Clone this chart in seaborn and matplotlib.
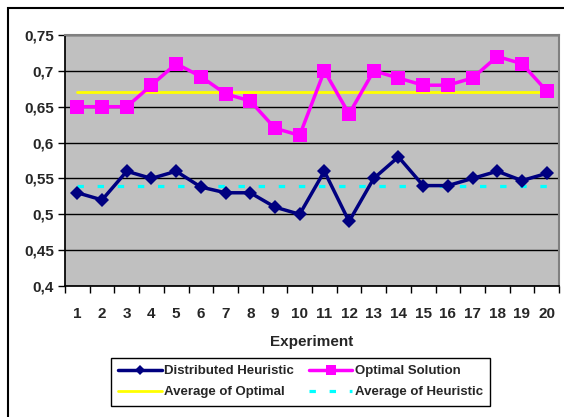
import numpy as np
import pandas as pd
import seaborn as sns
import matplotlib.pyplot as plt
from matplotlib.ticker import FuncFormatter, FixedLocator
from matplotlib.patches import Rectangle

sns.set_theme(style="white")
plt.rcParams['font.family'] = ['Liberation Sans', 'DejaVu Sans']

# Datos
experiments = list(range(1, 21))
heuristic = [0.53, 0.52, 0.56, 0.55, 0.56, 0.538, 0.53, 0.53, 0.51, 0.50,
             0.56, 0.49, 0.55, 0.58, 0.54, 0.54, 0.55, 0.56, 0.547, 0.557]
optimal = [0.65, 0.65, 0.65, 0.68, 0.71, 0.692, 0.668, 0.658, 0.62, 0.61,
           0.70, 0.64, 0.70, 0.69, 0.68, 0.68, 0.69, 0.72, 0.71, 0.672]
avg_optimal = [0.67] * 20
avg_heuristic = [0.54] * 20

df = pd.DataFrame({
    "Experiment": experiments,
    "Distributed Heuristic": heuristic,
    "Optimal Solution": optimal,
    "Average of Optimal": avg_optimal,
    "Average of Heuristic": avg_heuristic,
})

fig = plt.figure(figsize=(5.64, 4.17), dpi=100)
ax = fig.add_axes([65 / 564, 131 / 417, 494 / 564, 251 / 417])
ax.set_facecolor("#C0C0C0")

# marco exterior
fig.patches.append(Rectangle((8 / 564, -0.1), 1.2, (417 - 8) / 417 + 0.1,
                             transform=fig.transFigure, fill=False,
                             edgecolor="black", linewidth=1.5))

sns.lineplot(data=df, x="Experiment", y="Average of Optimal", ax=ax,
             color="#FFFF00", linewidth=2, label="Average of Optimal")
sns.lineplot(data=df, x="Experiment", y="Average of Heuristic", ax=ax,
             color="#00FFFF", linewidth=2.3, linestyle=(0, (2, 4.3)),
             label="Average of Heuristic")
sns.lineplot(data=df, x="Experiment", y="Optimal Solution", ax=ax,
             color="#FF00FF", linewidth=2.5, marker="s", markersize=10,
             markeredgewidth=0, label="Optimal Solution")
sns.lineplot(data=df, x="Experiment", y="Distributed Heuristic", ax=ax,
             color="#000080", linewidth=2.5, marker="D", markersize=7,
             markeredgewidth=0, label="Distributed Heuristic")

ax.set_xlim(0.5, 20.5)
ax.set_ylim(0.4, 0.75)
ax.set_yticks(np.arange(0.4, 0.751, 0.05))
ax.yaxis.set_major_formatter(FuncFormatter(lambda v, p: f"{v:.2f}".rstrip("0").replace(".", ",")))
ax.grid(axis="y", color="black", linewidth=1)
ax.set_axisbelow(True)

ax.set_xticks(experiments)
ax.xaxis.set_minor_locator(FixedLocator(np.arange(0.5, 21, 1)))
ax.tick_params(axis="x", which="major", length=0, pad=15, labelsize=11)
ax.tick_params(axis="x", which="minor", length=5, width=1, color="black", direction="out", bottom=True)
ax.tick_params(axis="y", which="major", length=5, width=1, color="black", direction="out", left=True, labelsize=11, pad=3)
for lab in ax.get_xticklabels() + ax.get_yticklabels():
    lab.set_fontweight("bold")

ax.set_xlabel("Experiment", fontsize=11, fontweight="bold", labelpad=10)
ax.set_ylabel("")

for side in ["top", "right"]:
    ax.spines[side].set_color("#808080")
    ax.spines[side].set_linewidth(1.5)
ax.spines["left"].set_color("black")
ax.spines["bottom"].set_color("black")

handles, labels = ax.get_legend_handles_labels()
order = ["Distributed Heuristic", "Average of Optimal", "Optimal Solution", "Average of Heuristic"]
hmap = dict(zip(labels, handles))
leg = ax.legend([hmap[k] for k in order], order, ncol=2, loc="upper left",
                bbox_to_anchor=(111 / 564, 59 / 417), bbox_transform=fig.transFigure,
                frameon=True, fancybox=False, edgecolor="black", framealpha=1,
                prop={"weight": "bold", "size": 9.5}, handlelength=3.3, markerscale=0.7,
                borderpad=0.55, labelspacing=0.65, columnspacing=1.1, handletextpad=0.2,
                borderaxespad=0)
leg.get_frame().set_linewidth(1)

fig.savefig("out.png", dpi=100)
